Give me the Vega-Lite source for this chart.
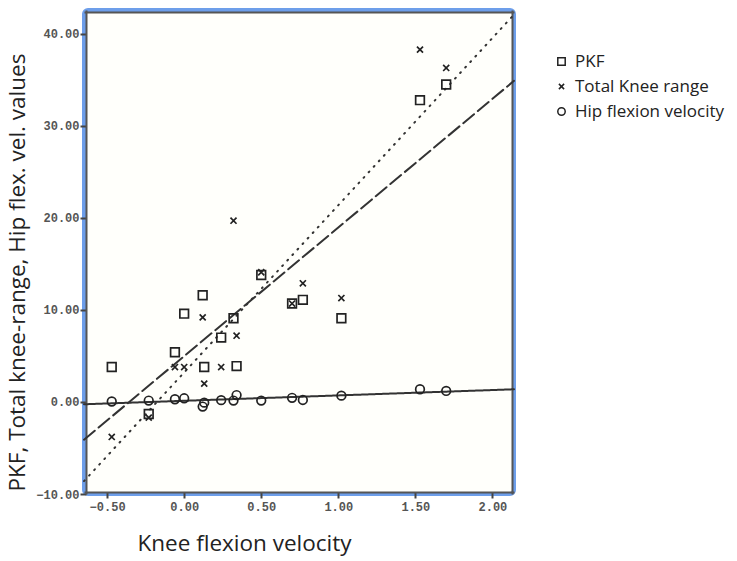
{
  "$schema": "https://vega.github.io/schema/vega-lite/v6.json",
  "width": 430,
  "height": 484,
  "padding": {"left": 6, "top": 10, "right": 5, "bottom": 5},
  "background": "white",
  "config": {
    "view": {"stroke": "#6d9eea", "strokeWidth": 4, "fill": "#fffffb", "cornerRadius": 4},
    "axis": {
      "labelFont": "Liberation Mono", "labelFontWeight": "bold", "labelFontSize": 12, "labelColor": "#555",
      "titleFont": "Open Sans", "titleFontSize": 22.5, "titleFontWeight": "normal", "titleColor": "#222",
      "domainColor": "#555", "domainWidth": 2, "tickColor": "#444", "tickWidth": 2, "grid": false
    },
    "legend": {"labelFont": "Open Sans", "labelFontSize": 17, "labelColor": "#222"}
  },
  "datasets": {
    "points": [
      {"kfv": -0.47, "value": 3.8, "measure": "PKF"},
      {"kfv": -0.23, "value": -1.3, "measure": "PKF"},
      {"kfv": -0.06, "value": 5.4, "measure": "PKF"},
      {"kfv": 0.0, "value": 9.6, "measure": "PKF"},
      {"kfv": 0.12, "value": 11.6, "measure": "PKF"},
      {"kfv": 0.13, "value": 3.8, "measure": "PKF"},
      {"kfv": 0.24, "value": 7.0, "measure": "PKF"},
      {"kfv": 0.32, "value": 9.1, "measure": "PKF"},
      {"kfv": 0.34, "value": 3.9, "measure": "PKF"},
      {"kfv": 0.5, "value": 13.8, "measure": "PKF"},
      {"kfv": 0.7, "value": 10.7, "measure": "PKF"},
      {"kfv": 0.77, "value": 11.1, "measure": "PKF"},
      {"kfv": 1.02, "value": 9.1, "measure": "PKF"},
      {"kfv": 1.53, "value": 32.8, "measure": "PKF"},
      {"kfv": 1.7, "value": 34.5, "measure": "PKF"},
      {"kfv": -0.47, "value": -3.8, "measure": "Total Knee range"},
      {"kfv": -0.23, "value": -1.7, "measure": "Total Knee range"},
      {"kfv": -0.06, "value": 3.8, "measure": "Total Knee range"},
      {"kfv": 0.0, "value": 3.8, "measure": "Total Knee range"},
      {"kfv": 0.12, "value": 9.2, "measure": "Total Knee range"},
      {"kfv": 0.13, "value": 2.0, "measure": "Total Knee range"},
      {"kfv": 0.24, "value": 3.8, "measure": "Total Knee range"},
      {"kfv": 0.32, "value": 19.7, "measure": "Total Knee range"},
      {"kfv": 0.34, "value": 7.2, "measure": "Total Knee range"},
      {"kfv": 0.5, "value": 14.1, "measure": "Total Knee range"},
      {"kfv": 0.7, "value": 10.7, "measure": "Total Knee range"},
      {"kfv": 0.77, "value": 12.9, "measure": "Total Knee range"},
      {"kfv": 1.02, "value": 11.3, "measure": "Total Knee range"},
      {"kfv": 1.53, "value": 38.3, "measure": "Total Knee range"},
      {"kfv": 1.7, "value": 36.3, "measure": "Total Knee range"},
      {"kfv": -0.47, "value": 0.05, "measure": "Hip flexion velocity"},
      {"kfv": -0.23, "value": 0.15, "measure": "Hip flexion velocity"},
      {"kfv": -0.06, "value": 0.3, "measure": "Hip flexion velocity"},
      {"kfv": 0.0, "value": 0.4, "measure": "Hip flexion velocity"},
      {"kfv": 0.12, "value": -0.5, "measure": "Hip flexion velocity"},
      {"kfv": 0.13, "value": -0.07, "measure": "Hip flexion velocity"},
      {"kfv": 0.24, "value": 0.2, "measure": "Hip flexion velocity"},
      {"kfv": 0.32, "value": 0.15, "measure": "Hip flexion velocity"},
      {"kfv": 0.34, "value": 0.75, "measure": "Hip flexion velocity"},
      {"kfv": 0.5, "value": 0.15, "measure": "Hip flexion velocity"},
      {"kfv": 0.7, "value": 0.45, "measure": "Hip flexion velocity"},
      {"kfv": 0.77, "value": 0.22, "measure": "Hip flexion velocity"},
      {"kfv": 1.02, "value": 0.69, "measure": "Hip flexion velocity"},
      {"kfv": 1.53, "value": 1.38, "measure": "Hip flexion velocity"},
      {"kfv": 1.7, "value": 1.2, "measure": "Hip flexion velocity"}
    ],
    "lines": [
      {"kfv": -0.65, "value": -4.1, "series": "PKF fit"},
      {"kfv": 2.14, "value": 34.9, "series": "PKF fit"},
      {"kfv": -0.65, "value": -8.6, "series": "Total Knee range fit"},
      {"kfv": 2.14, "value": 42.1, "series": "Total Knee range fit"},
      {"kfv": -0.65, "value": -0.25, "series": "Hip flexion velocity fit"},
      {"kfv": 2.14, "value": 1.38, "series": "Hip flexion velocity fit"}
    ]
  },
  "layer": [
    {
      "data": {"name": "lines"},
      "mark": {"type": "line", "color": "#333", "strokeWidth": 2, "strokeCap": "round"},
      "encoding": {
        "x": {"field": "kfv", "type": "quantitative",
          "scale": {"domain": [-0.65, 2.14], "nice": false, "zero": false},
          "axis": {"orient": "top", "labels": false, "ticks": false, "title": null, "offset": -2}},
        "y": {"field": "value", "type": "quantitative",
          "scale": {"domain": [-10, 42.6], "nice": false, "zero": false},
          "axis": {"orient": "right", "labels": false, "ticks": false, "title": null, "offset": -2}},
        "detail": {"field": "series"},
        "strokeDash": {"field": "series", "type": "nominal",
          "scale": {"domain": ["PKF fit", "Total Knee range fit", "Hip flexion velocity fit"], "range": [[14, 5], [1, 6.5], [1, 0]]},
          "legend": null}
      }
    },
    {
      "data": {"name": "points"},
      "mark": {"type": "point", "filled": false, "color": "#222", "strokeWidth": 1.7, "opacity": 1, "size": 75},
      "encoding": {
        "x": {"field": "kfv", "type": "quantitative", "title": "Knee flexion velocity",
          "axis": {"orient": "bottom", "values": [-0.5, 0, 0.5, 1, 1.5, 2], "format": ".2f",
            "tickSize": 6, "labelPadding": 3, "titlePadding": 20, "titleX": 160, "offset": -2}},
        "y": {"field": "value", "type": "quantitative", "title": "PKF, Total knee-range, Hip flex. vel. values",
          "axis": {"orient": "left", "values": [-10, 0, 10, 20, 30, 40], "format": ".2f",
            "tickSize": 6, "labelPadding": 1, "titlePadding": 6, "titleY": 262, "offset": -2}},
        "shape": {"field": "measure", "type": "nominal",
          "scale": {"domain": ["PKF", "Total Knee range", "Hip flexion velocity"],
            "range": ["square", "M-0.7,-0.7L0.7,0.7M-0.7,0.7L0.7,-0.7", "circle"]},
          "legend": {"title": null, "orient": "none", "legendX": 469, "legendY": 43,
            "symbolSize": 55, "symbolStrokeWidth": 1.5, "symbolStrokeColor": "#222", "symbolFillColor": "transparent",
            "rowPadding": 7, "labelOffset": 5, "padding": 0}}
      }
    }
  ],
  "resolve": {"axis": {"x": "independent", "y": "independent"}}
}
